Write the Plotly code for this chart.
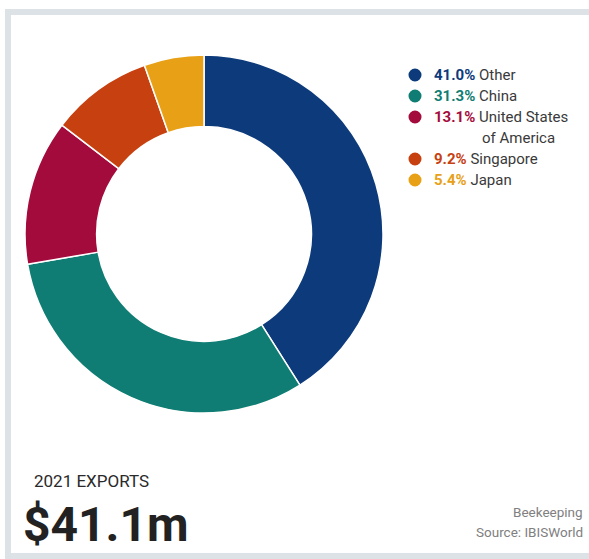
import plotly.graph_objects as go

# Beekeeping exports by destination, 2021
destinations = ["Other", "China", "United States of America", "Singapore", "Japan"]
shares = [41.0, 31.3, 13.1, 9.2, 5.4]
colors = ["#0c3a7b", "#0f7d73", "#a40b3d", "#c7400f", "#e8a116"]
legend_labels = ["Other", "China", "United States", "Singapore", "Japan"]
total_label = "$41.1m"
year_label = "2021 EXPORTS"

W, H = 589, 559


def px(x):
    return x / W


def py(y):
    return 1 - y / H


fig = go.Figure()

# donut
cx, cy, r = 204, 234, 179
fig.add_trace(go.Pie(
    labels=destinations,
    values=shares,
    hole=0.6,
    sort=False,
    direction="clockwise",
    rotation=0,
    marker=dict(colors=colors, line=dict(color="white", width=1.5)),
    textinfo="none",
    hoverinfo="label+percent",
    showlegend=False,
    domain=dict(x=[px(cx - r), px(cx + r)], y=[py(cy + r), py(cy - r)]),
))

shapes = []
annotations = []

# outer frame
shapes.append(dict(type="rect", xref="paper", yref="paper",
                   x0=px(8), x1=px(600), y0=py(556), y1=py(12),
                   line=dict(color="#dce2e6", width=6), fillcolor="rgba(0,0,0,0)"))

# custom legend
row_y = [75, 96, 117, 159, 180]
font = "Roboto, Arial, sans-serif"
for name, share, col, yy in zip(legend_labels, shares, colors, row_y):
    shapes.append(dict(type="circle", xref="paper", yref="paper",
                       xsizemode="pixel", ysizemode="pixel",
                       xanchor=px(415), yanchor=py(yy),
                       x0=-6.5, x1=6.5, y0=-6.5, y1=6.5,
                       fillcolor=col, line=dict(width=0)))
    annotations.append(dict(
        xref="paper", yref="paper", x=px(432), y=py(yy),
        xanchor="left", yanchor="middle", showarrow=False,
        text=f"<b><span style='color:{col}'>{share:.1f}%</span></b> {name}",
        font=dict(family=font, size=15, color="#3a3a3a"),
    ))
annotations.append(dict(
    xref="paper", yref="paper", x=px(480), y=py(138),
    xanchor="left", yanchor="middle", showarrow=False,
    text="of America", font=dict(family=font, size=15, color="#3a3a3a"),
))

# headline figure
annotations.append(dict(
    xref="paper", yref="paper", x=px(32), y=py(481),
    xanchor="left", yanchor="middle", showarrow=False,
    text=year_label,
    font=dict(family=font, size=17, color="#2a2a2a"),
))
annotations.append(dict(
    xref="paper", yref="paper", x=px(21), y=py(524),
    xanchor="left", yanchor="middle", showarrow=False,
    text=f"<b>{total_label}</b>", font=dict(family=font, size=48, color="#222222"),
))

# source
annotations.append(dict(
    xref="paper", yref="paper", x=px(585), y=py(512),
    xanchor="right", yanchor="middle", showarrow=False,
    text="Beekeeping", font=dict(family=font, size=13.5, color="#808080"),
))
annotations.append(dict(
    xref="paper", yref="paper", x=px(585), y=py(532),
    xanchor="right", yanchor="middle", showarrow=False,
    text="Source: IBISWorld", font=dict(family=font, size=13.5, color="#808080"),
))

fig.update_layout(
    width=W, height=H,
    margin=dict(l=0, r=0, t=0, b=0),
    paper_bgcolor="white",
    plot_bgcolor="white",
    shapes=shapes,
    annotations=annotations,
)

fig.write_html("out.html")
